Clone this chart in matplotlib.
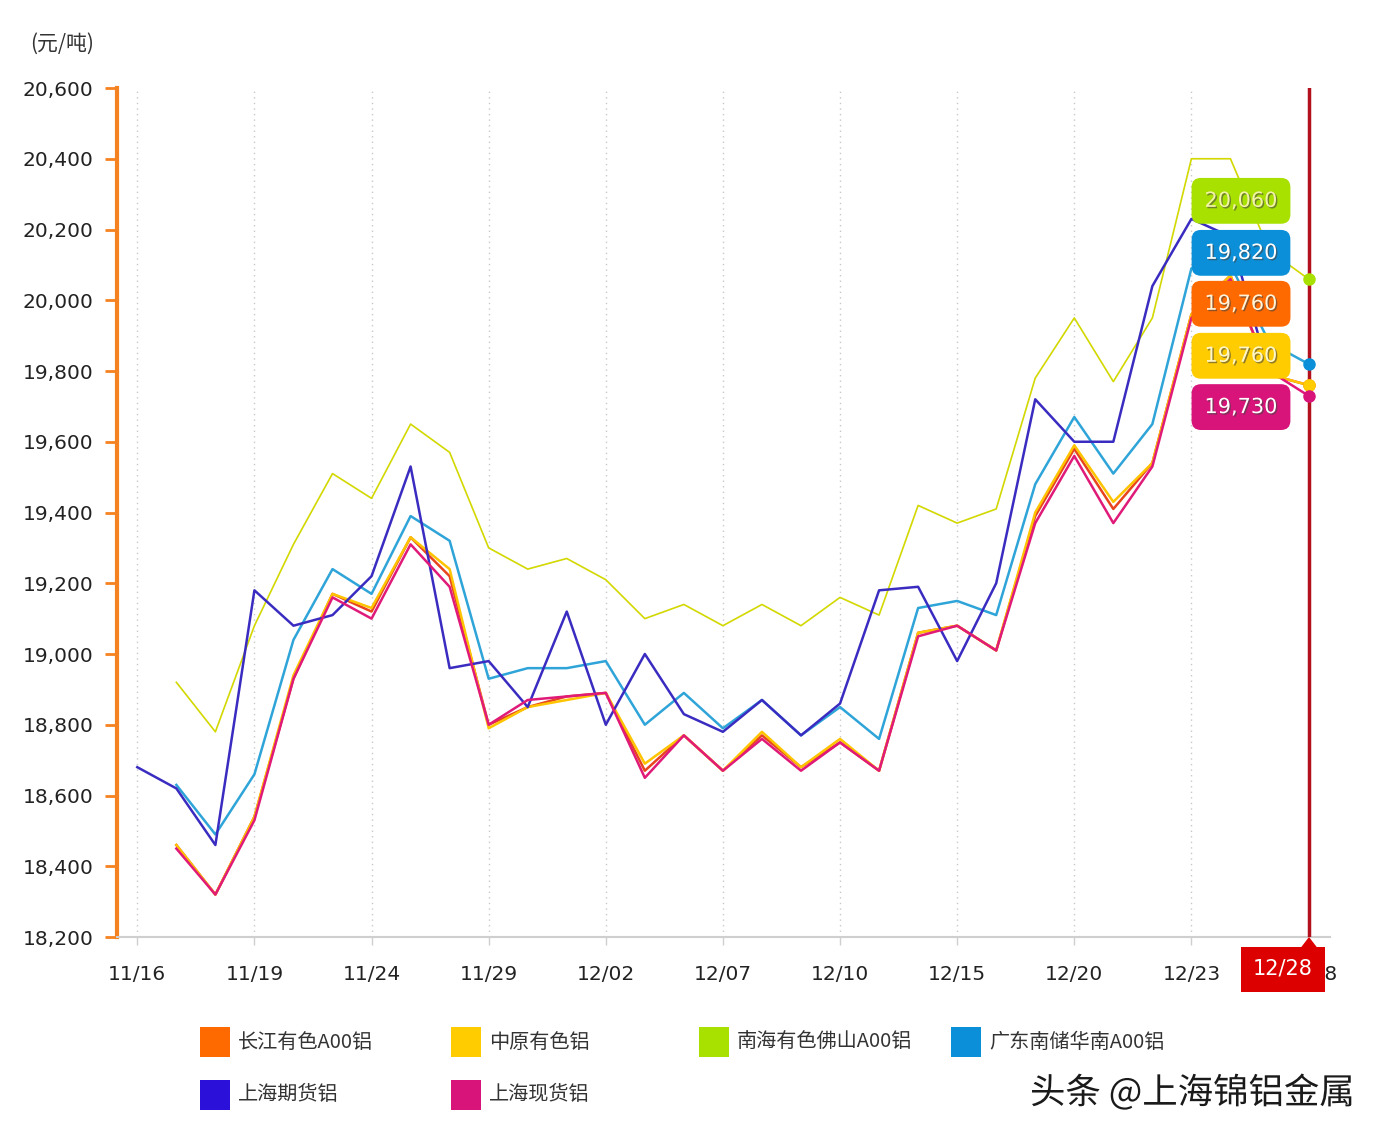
import numpy as np
import matplotlib
matplotlib.use('Agg')
import matplotlib.pyplot as plt
import matplotlib.patheffects as pe
from matplotlib.patches import Rectangle, Polygon

plt.rcParams['font.family'] = ['DejaVu Sans', 'Noto Sans CJK SC']

nan = np.nan

dates = ['11/16', '11/17', '11/18', '11/19', '11/22', '11/23', '11/24', '11/25',
         '11/26', '11/29', '11/30', '12/01', '12/02', '12/03', '12/06', '12/07',
         '12/08', '12/09', '12/10', '12/13', '12/14', '12/15', '12/16', '12/17',
         '12/20', '12/21', '12/22', '12/23', '12/24', '12/27', '12/28']

changjiang = [nan, 18460, 18320, 18540, 18930, 19170, 19120, 19330, 19220, 18800,
              18850, 18880, 18890, 18670, 18770, 18670, 18770, 18680, 18750, 18670,
              19060, 19080, 19010, 19390, 19580, 19410, 19540, 19960, 20070, 19790, 19760]
zhongyuan = [nan, 18460, 18320, 18540, 18940, 19170, 19130, 19330, 19240, 18790,
             18850, 18870, 18890, 18690, 18770, 18670, 18780, 18680, 18760, 18670,
             19060, 19080, 19010, 19400, 19590, 19430, 19540, 19960, 20070, 19790, 19760]
nanhai = [nan, 18920, 18780, 19080, 19310, 19510, 19440, 19650, 19570, 19300,
          19240, 19270, 19210, 19100, 19140, 19080, 19140, 19080, 19160, 19110,
          19420, 19370, 19410, 19780, 19950, 19770, 19950, 20400, 20400, 20140, 20060]
guangdong = [nan, 18630, 18490, 18660, 19040, 19240, 19170, 19390, 19320, 18930,
             18960, 18960, 18980, 18800, 18890, 18790, 18870, 18770, 18850, 18760,
             19130, 19150, 19110, 19480, 19670, 19510, 19650, 20090, 20100, 19880, 19820]
shfutures = [18680, 18620, 18460, 19180, 19080, 19110, 19220, 19530, 18960, 18980,
             18850, 19120, 18800, 19000, 18830, 18780, 18870, 18770, 18860, 19180,
             19190, 18980, 19200, 19720, 19600, 19600, 20040, 20230, 20180, 19790, nan]
shspot = [nan, 18450, 18320, 18530, 18930, 19160, 19100, 19310, 19190, 18800,
          18870, 18880, 18890, 18650, 18770, 18670, 18760, 18670, 18750, 18670,
          19050, 19080, 19010, 19370, 19560, 19370, 19530, 19950, 20060, 19800, 19730]

names = ['长江有色A00铝', '中原有色铝', '南海有色佛山A00铝', '广东南储华南A00铝', '上海期货铝', '上海现货铝']
legend_colors = ['#ff6a00', '#ffcc00', '#a8e000', '#0a8fd8', '#2a10d8', '#d8137a']
line_colors = ['#e8441e', '#ffc400', '#d2d800', '#2ea4d8', '#3a2cc0', '#e01a78']
series = [changjiang, zhongyuan, nanhai, guangdong, shfutures, shspot]

x = np.arange(len(dates))

fig = plt.figure(figsize=(13.84, 11.42), dpi=100)
fig.patch.set_facecolor('white')
ax = fig.add_axes([117/1384, 1-937/1142, (1330-117)/1384, (937-88)/1142])

# draw order: green at the bottom, purple on top
for k in [2, 1, 3, 0, 5, 4]:
    lw = 1.2 if k == 2 else 1.8
    ax.plot(x, series[k], color=line_colors[k], lw=lw, zorder=3+k*0.1)

ax.set_xlim(-0.52, 30.55)
ax.set_ylim(18200, 20600)
ax.set_yticks(np.arange(18200, 20601, 200))
ax.set_yticklabels(['{:,}'.format(v) for v in range(18200, 20601, 200)])
ticks = list(range(0, 31, 3))
ax.set_xticks(ticks)
ax.set_xticklabels([dates[t] for t in ticks])

for t in ticks[:-1]:
    ax.axvline(t, color='#c8c8c8', lw=1, ls=(0, (1, 3)), zorder=1)

for s in ['top', 'right']:
    ax.spines[s].set_visible(False)
ax.spines['left'].set_color('#f58220')
ax.spines['left'].set_linewidth(3)
ax.spines['bottom'].set_color('#cfcfcf')
ax.spines['bottom'].set_linewidth(1.5)
ax.tick_params(axis='y', colors='#f58220', length=9, width=2, labelcolor='#222222', labelsize=14.5, pad=8)
ax.tick_params(axis='x', colors='#cfcfcf', length=6, width=1, labelcolor='#222222', labelsize=14.5, pad=14)

fig.text(30/1384, 1-44/1142, '(元/吨)', fontsize=15, color='#333333', va='center',
         family=['Noto Sans CJK SC', 'DejaVu Sans'])

# tooltip line at the last date
last = len(dates) - 1
ax.axvline(last, color='#b3101e', lw=2.5, zorder=6)
for k in [2, 3, 0, 1, 5]:
    ax.plot(last, series[k][last], 'o', color=legend_colors[k], ms=8, zorder=7)

# value boxes
box_order = [2, 3, 0, 1, 5]
box_text = ['#f2f2a8', 'white', '#fff3d8', '#fff6c8', 'white']
box_y = [20281, 20134, 19990, 19843, 19698]
for j, k in enumerate(box_order):
    ax.text(28.27, box_y[j], '{:,}'.format(int(series[k][last])), fontsize=15, color=box_text[j],
            ha='center', va='center', zorder=9,
            path_effects=[pe.withSimplePatchShadow(offset=(1, -1), shadow_rgbFace='#444444', alpha=0.6)],
            bbox=dict(boxstyle='round,pad=0.62,rounding_size=0.45', fc=legend_colors[k], ec='none'))

# red date tag under the axis
fig.text(1283/1384, 1-969/1142, dates[last], fontsize=15, color='white', ha='center', va='center',
         bbox=dict(boxstyle='square,pad=0.6', fc='#dd0000', ec='none'), zorder=10)
fig.add_artist(Polygon([[1299/1384, 1-950/1142], [1309/1384, 1-937/1142], [1319/1384, 1-950/1142]],
                       closed=True, fc='#dd0000', ec='none', transform=fig.transFigure, zorder=10))

# legend
col_x = [200, 451, 699, 951]
row_y = [1042, 1095]
for k, name in enumerate(names):
    cx = col_x[k % 4]
    cy = row_y[k // 4]
    fig.add_artist(Rectangle((cx/1384, 1-(cy+15)/1142), 30/1384, 30/1142,
                             fc=legend_colors[k], ec='none', transform=fig.transFigure))
    fig.text((cx+38)/1384, 1-cy/1142, name, fontsize=14.5, color='#333333', va='center',
             family=['Noto Sans CJK SC', 'DejaVu Sans'])

fig.text(1030/1384, 1-1093/1142, '头条 @上海锦铝金属', fontsize=25.5, color='#1a1a1a', va='center',
         family=['Noto Sans CJK SC', 'DejaVu Sans'],
         path_effects=[pe.withStroke(linewidth=3, foreground='white')])

fig.savefig('out.png', dpi=100)
